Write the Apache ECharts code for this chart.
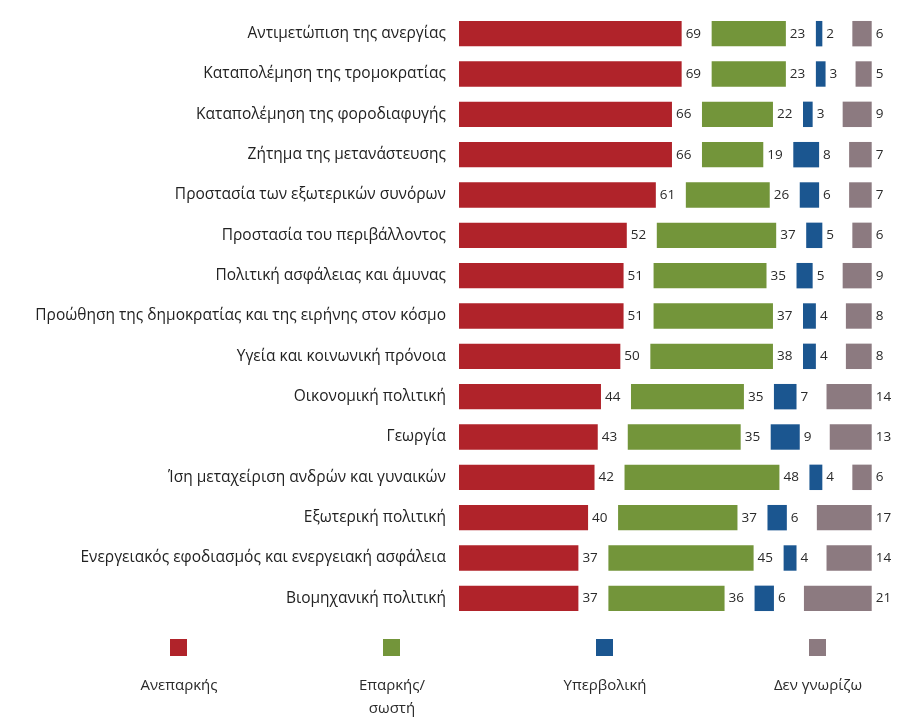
<!DOCTYPE html>
<html><head><meta charset="utf-8">
<script src="https://cdn.jsdelivr.net/npm/echarts@6/dist/echarts.min.js"></script>
<style>html,body{margin:0;padding:0;background:#fff}#c{width:912px;height:720px}</style>
</head><body><div id="c"></div>
<script>
const categories = [
  "Αντιμετώπιση της ανεργίας",
  "Καταπολέμηση της τρομοκρατίας",
  "Καταπολέμηση της φοροδιαφυγής",
  "Ζήτημα της μετανάστευσης",
  "Προστασία των εξωτερικών συνόρων",
  "Προστασία του περιβάλλοντος",
  "Πολιτική ασφάλειας και άμυνας",
  "Προώθηση της δημοκρατίας και της ειρήνης στον κόσμο",
  "Υγεία και κοινωνική πρόνοια",
  "Οικονομική πολιτική",
  "Γεωργία",
  "Ίση μεταχείριση ανδρών και γυναικών",
  "Εξωτερική πολιτική",
  "Ενεργειακός εφοδιασμός και ενεργειακή ασφάλεια",
  "Βιομηχανική πολιτική"
];
const inadequate = [69,69,66,66,61,52,51,51,50,44,43,42,40,37,37];
const adequate   = [23,23,22,19,26,37,35,37,38,35,35,48,37,45,36];
const excessive  = [2,3,3,8,6,5,5,4,4,7,9,4,6,4,6];
const dontKnow   = [6,5,9,7,7,6,9,8,8,14,13,6,17,14,21];
const seriesNames = ["Ανεπαρκής","Επαρκής/\nσωστή","Υπερβολική","Δεν γνωρίζω"];
const colors = ["#B0232A","#73953A","#1B5690","#8C7A80"];
const GAP = 9.3;

const seriesValues = [inadequate, adequate, excessive, dontKnow];
const series = [];
seriesValues.forEach((vals, i) => {
  series.push({
    name: seriesNames[i], type: 'bar', stack: 't', data: vals,
    barCategoryGap: '37%',
    itemStyle: { color: colors[i] },
    label: { show: true, position: 'right', distance: 4, color: '#2a2a2a', fontSize: 13.5, fontFamily: 'Open Sans' },
    silent: true
  });
  if (i < 3) {
    series.push({
      name: 'gap' + i, type: 'bar', stack: 't', data: vals.map(() => GAP),
      itemStyle: { color: 'transparent' }, silent: true, label: { show: false }
    });
  }
});

const legendX = [178, 391, 604, 817];
const graphic = [];
seriesNames.forEach((n, i) => {
  graphic.push({ type: 'rect', left: legendX[i] - 8, top: 639, shape: { width: 17, height: 17 }, style: { fill: colors[i] } });
  graphic.push({ type: 'text', x: legendX[i] + 1, y: 674, style: { text: n, fill: '#2a2a2a', font: '15px "Open Sans"', align: 'center', verticalAlign: 'top', lineHeight: 23 } });
});

const chart = echarts.init(document.getElementById('c'));
chart.setOption({
  animation: false,
  textStyle: { fontFamily: 'Open Sans' },
  grid: { left: 459, right: 40.3, top: 13.5, height: 605, containLabel: false },
  xAxis: { type: 'value', min: 0, max: 100 + 3 * GAP, show: false },
  yAxis: {
    type: 'category', data: categories, inverse: true,
    axisLine: { show: false }, axisTick: { show: false },
    axisLabel: { fontSize: 15.5, color: '#222', margin: 13, fontFamily: 'Open Sans' }
  },
  series: series,
  graphic: graphic
});
</script></body></html>
